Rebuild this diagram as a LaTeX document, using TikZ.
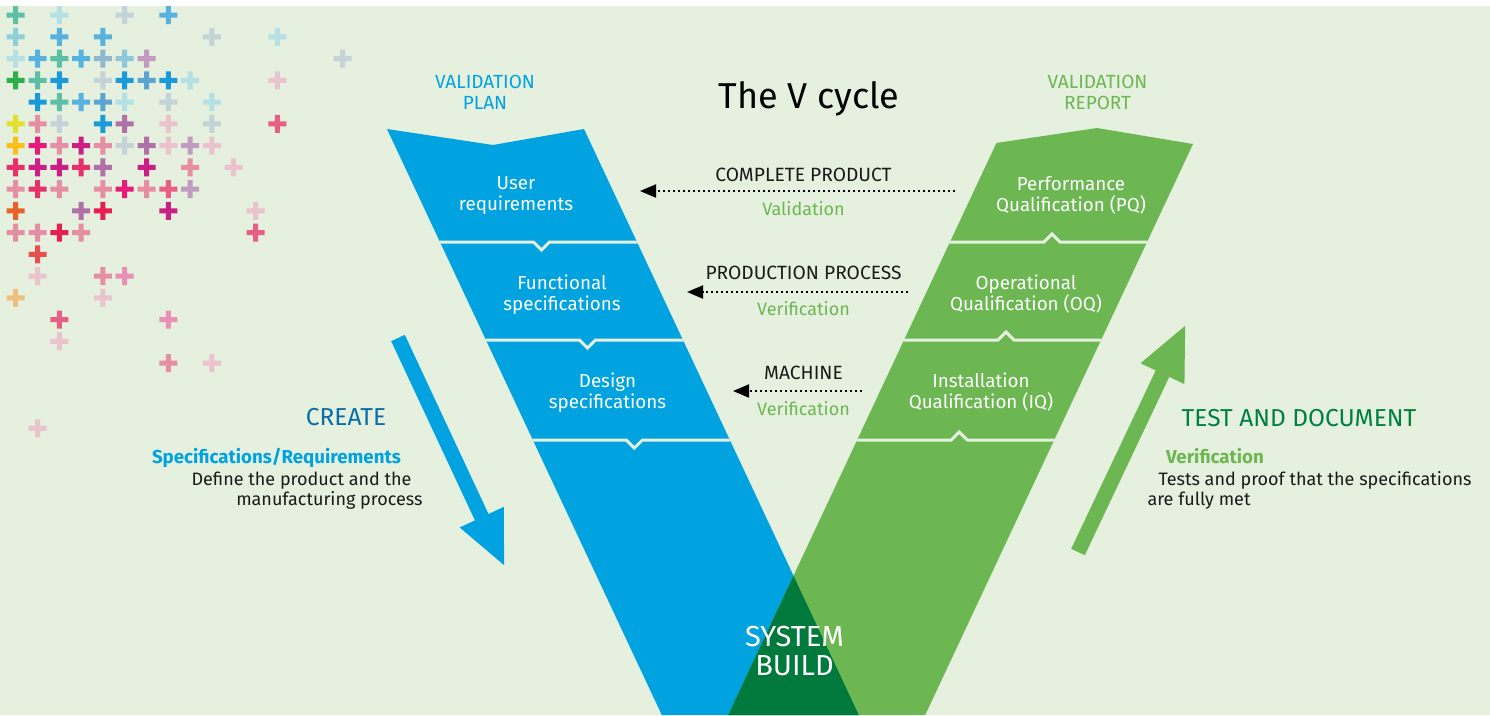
\documentclass[tikz,border=0pt]{standalone}
\usepackage{fontspec}
\setmainfont{Fira Sans}
\usetikzlibrary{arrows.meta, calc}

\definecolor{vbg}{HTML}{E5F0DF}
\definecolor{vblue}{HTML}{00A3E0}
\definecolor{vgreen}{HTML}{6CB752}
\definecolor{vdark}{HTML}{007A3C}
\definecolor{createblue}{HTML}{0A6EA8}
\definecolor{testgreen}{HTML}{00803E}
\definecolor{vtext}{HTML}{1A1A1A}
% colours of the crosses
\definecolor{pteal}{HTML}{5DBFA6}
\definecolor{pcyanl}{HTML}{B5E0E5}
\definecolor{pgray}{HTML}{C3D3D8}
\definecolor{pblue}{HTML}{58B2DF}
\definecolor{pteall}{HTML}{8ECFD8}
\definecolor{psteel}{HTML}{8DB8CF}
\definecolor{psteeld}{HTML}{5BA6D0}
\definecolor{plblue}{HTML}{8EC8DA}
\definecolor{pmauve}{HTML}{C19BC0}
\definecolor{pgreen}{HTML}{2DB04A}
\definecolor{pdeep}{HTML}{1A9AD9}
\definecolor{plpink}{HTML}{EBC3CF}
\definecolor{pyellow}{HTML}{E3DF2B}
\definecolor{ppink}{HTML}{E68FA4}
\definecolor{ppinkb}{HTML}{E890B5}
\definecolor{ppurple}{HTML}{B070A8}
\definecolor{pred}{HTML}{E85E84}
\definecolor{predb}{HTML}{E85050}
\definecolor{porange}{HTML}{FBBF18}
\definecolor{porangeb}{HTML}{E8632A}
\definecolor{plorange}{HTML}{EEC07E}
\definecolor{pmag}{HTML}{E8197A}
\definecolor{pmagp}{HTML}{CC1F86}
\definecolor{prose}{HTML}{E8306A}
\definecolor{pcrim}{HTML}{E81E50}

\tikzset {
    stage/.style = {text = white, align = center, inner sep = 0pt,
        font = \fontsize{18.8}{21}\selectfont},
    flow label/.style = {text = vtext, anchor = base, inner sep = 0pt,
        font = \fontsize{19.2}{21}\selectfont},
    check label/.style = {text = vgreen, anchor = base, inner sep = 0pt,
        font = \fontsize{18}{21}\selectfont},
    doc label/.style = {align = center, inner sep = 0pt,
        font = \fontsize{19}{21}\selectfont},
    side title/.style = {anchor = base, inner sep = 0pt,
        font = \fontsize{24.5}{26}\selectfont},
    side text/.style = {text = vtext, inner sep = 0pt,
        font = \fontsize{18}{20}\selectfont},
    side head/.style = {inner sep = 0pt,
        font = \fontsize{18.7}{20}\bfseries},
    feedback/.style = {line width = 2pt, dash pattern = on 2pt off 3pt,
        -{Triangle[length = 16pt, width = 13pt]}},
    big arrow/.style = {line width = 15pt,
        -{Triangle[length = 55pt, width = 44pt]}},
    separator/.style = {draw = vbg, line width = 3pt},
}

\begin{document}
\begin{tikzpicture}[x = 1pt, y = -1pt]
    \useasboundingbox (0, 0) rectangle (1490, 715);
    \fill[white] (0, 0) rectangle (1490, 715);
    \fill[vbg] (0, 6) rectangle (1490, 715);

    % crosses
    \foreach \c/\r/\col in {
        0/0/pteal, 2/0/pcyanl, 5/0/pgray, 7/0/pblue,
        0/1/pteall, 2/1/pblue, 4/1/pblue, 9/1/pgray, 12/1/pcyanl,
        0/2/pcyanl, 1/2/pblue, 2/2/pteal, 3/2/pblue, 4/2/psteel, 5/2/plblue, 6/2/pmauve, 15/2/pgray,
        0/3/pgreen, 1/3/pteal, 2/3/pdeep, 4/3/pgray, 5/3/pdeep, 6/3/psteeld, 7/3/pdeep, 8/3/pcyanl, 12/3/plpink,
        1/4/pdeep, 2/4/pteal, 3/4/pblue, 4/4/psteeld, 5/4/pcyanl, 7/4/pgray, 9/4/pcyanl,
        0/5/pyellow, 1/5/ppink, 2/5/pgray, 4/5/pdeep, 5/5/ppurple, 7/5/plpink, 9/5/pgray, 12/5/pred,
        0/6/porange, 1/6/pmag, 2/6/ppink, 3/6/pmagp, 4/6/ppink, 5/6/pgray, 6/6/ppurple, 7/6/plpink, 8/6/pmauve, 9/6/plpink,
        0/7/prose, 1/7/pmagp, 2/7/pmagp, 3/7/prose, 4/7/ppurple, 6/7/pmagp, 8/7/ppink, 10/7/plpink,
        0/8/ppink, 1/8/prose, 2/8/ppink, 4/8/ppink, 5/8/pmag, 6/8/ppink, 7/8/pred, 8/8/pmauve,
        0/9/porangeb, 3/9/ppurple, 4/9/pcrim, 7/9/pmagp, 11/9/plpink,
        0/10/ppink, 1/10/ppink, 2/10/pcrim, 3/10/ppink, 11/10/pred,
        1/11/predb,
        1/12/plpink, 4/12/ppink, 5/12/ppinkb,
        0/13/plorange, 4/13/plpink,
        2/14/pred, 7/14/ppinkb,
        2/15/plpink,
        7/16/ppink, 9/16/plpink,
        1/19/plpink} {
        \coordinate (p) at ({15.7 + 21.8*\c}, {15 + 21.75*\r});
        \fill[\col] (p) +(-9, -2.5) rectangle +(9, 2.5)
            (p) +(-2.5, -9) rectangle +(2.5, 9);
    }

    % the two arms of the V
    \def\bluearm{(387, 129) -- (493, 145) -- (584, 129) -- (858.8, 715) -- (661.8, 715) -- cycle}
    \def\greenarm{(996.4, 143) -- (1097, 128) -- (1193, 144) -- (925.2, 715) -- (728.2, 715) -- cycle}
    \fill[vblue] \bluearm;
    \fill[vgreen] \greenarm;
    \begin{scope}
        \clip \bluearm;
        \fill[vdark] \greenarm;
    \end{scope}

    % separators
    \begin{scope}
        \clip \bluearm;
        \foreach \y in {242, 340, 440} {
            \pgfmathsetmacro\xl{387 + 0.469*(\y - 129)}
            \pgfmathsetmacro\xm{\xl + 101.5}
            \draw[separator] (\xl - 5, \y) -- (\xm - 8, \y) -- (\xm, \y + 8)
                -- (\xm + 8, \y) -- (\xl + 202, \y);
        }
    \end{scope}
    \begin{scope}
        \clip \greenarm;
        \foreach \y in {242, 340, 440} {
            \pgfmathsetmacro\xl{1003 - 0.469*(\y - 129)}
            \pgfmathsetmacro\xm{\xl + 102}
            \draw[separator] (\xl - 5, \y) -- (\xm - 8, \y) -- (\xm, \y - 8)
                -- (\xm + 8, \y) -- (\xl + 202, \y);
        }
    \end{scope}

    % stages
    \node (user req) [stage] at (516, 196) {User\\requirements};
    \node (func spec) [stage] at (562, 294.5) {Functional\\specifications};
    \node (design spec) [stage] at (607.5, 393) {Design\\specifications};
    \node (pq) [stage] at (1071, 195) {Performance\\Qualification (PQ)};
    \node (oq) [stage] at (1026, 294) {Operational\\Qualification (OQ)};
    \node (iq) [stage] at (981, 392) {Installation\\Qualification (IQ)};
    \node (build) [stage, font = \fontsize{29}{29}\selectfont] at (794.5, 650.5) {SYSTEM\\BUILD};

    % headings
    \node (title) [anchor = base, inner sep = 0pt, font = \fontsize{36}{40}\selectfont]
        at (809, 108) {The V cycle};
    \node (plan) [doc label, text = vblue] at (485, 92.3) {VALIDATION\\PLAN};
    \node (report) [doc label, text = vgreen] at (1097.5, 92.5) {VALIDATION\\REPORT};

    % feedback arrows
    \coordinate (cp from) at (955, 191);
    \coordinate (cp to) at (640, 191);
    \coordinate (pp from) at (908, 292);
    \coordinate (pp to) at (687, 292);
    \coordinate (mc from) at (862, 391);
    \coordinate (mc to) at (733, 391);
    \draw[feedback] (cp from) -- (cp to);
    \draw[feedback] (pp from) -- (pp to);
    \draw[feedback] (mc from) -- (mc to);
    \node (cp label) [flow label] at (803.5, 181) {COMPLETE PRODUCT};
    \node (cp check) [check label] at (803.5, 215) {Validation};
    \node (pp label) [flow label] at (803.5, 279.5) {PRODUCTION PROCESS};
    \node (pp check) [check label] at (803.5, 315) {Verification};
    \node (mc label) [flow label] at (803.5, 379.5) {MACHINE};
    \node (mc check) [check label] at (803.5, 415) {Verification};

    % create side
    \coordinate (create tail) at (398, 338);
    \coordinate (create tip) at (505, 567);
    \draw[big arrow, vblue] (create tail) -- (create tip);
    \node (create) [side title, text = createblue] at (346, 425) {CREATE};
    \node (spec head) [side head, anchor = base east, text = vblue]
        at (401, 463.3) {Specifications/Requirements};
    \node (spec text a) [side text, anchor = base east] at (411.7, 485) {Define the product and the};
    \node (spec text b) [side text, anchor = base east] at (422.7, 505.7) {manufacturing process};

    % test side
    \coordinate (test tail) at (1078, 552);
    \coordinate (test tip) at (1186, 324);
    \draw[big arrow, vgreen] (test tail) -- (test tip);
    \node (test) [side title, text = testgreen] at (1299, 426) {TEST AND DOCUMENT};
    \node (verif head) [side head, anchor = base west, text = vgreen]
        at (1166, 463.3) {Verification};
    \node (verif text a) [side text, anchor = base west] at (1158.3, 485.7) {Tests and proof that the specifications};
    \node (verif text b) [side text, anchor = base west] at (1147.3, 505.7) {are fully met};
\end{tikzpicture}
\end{document}
